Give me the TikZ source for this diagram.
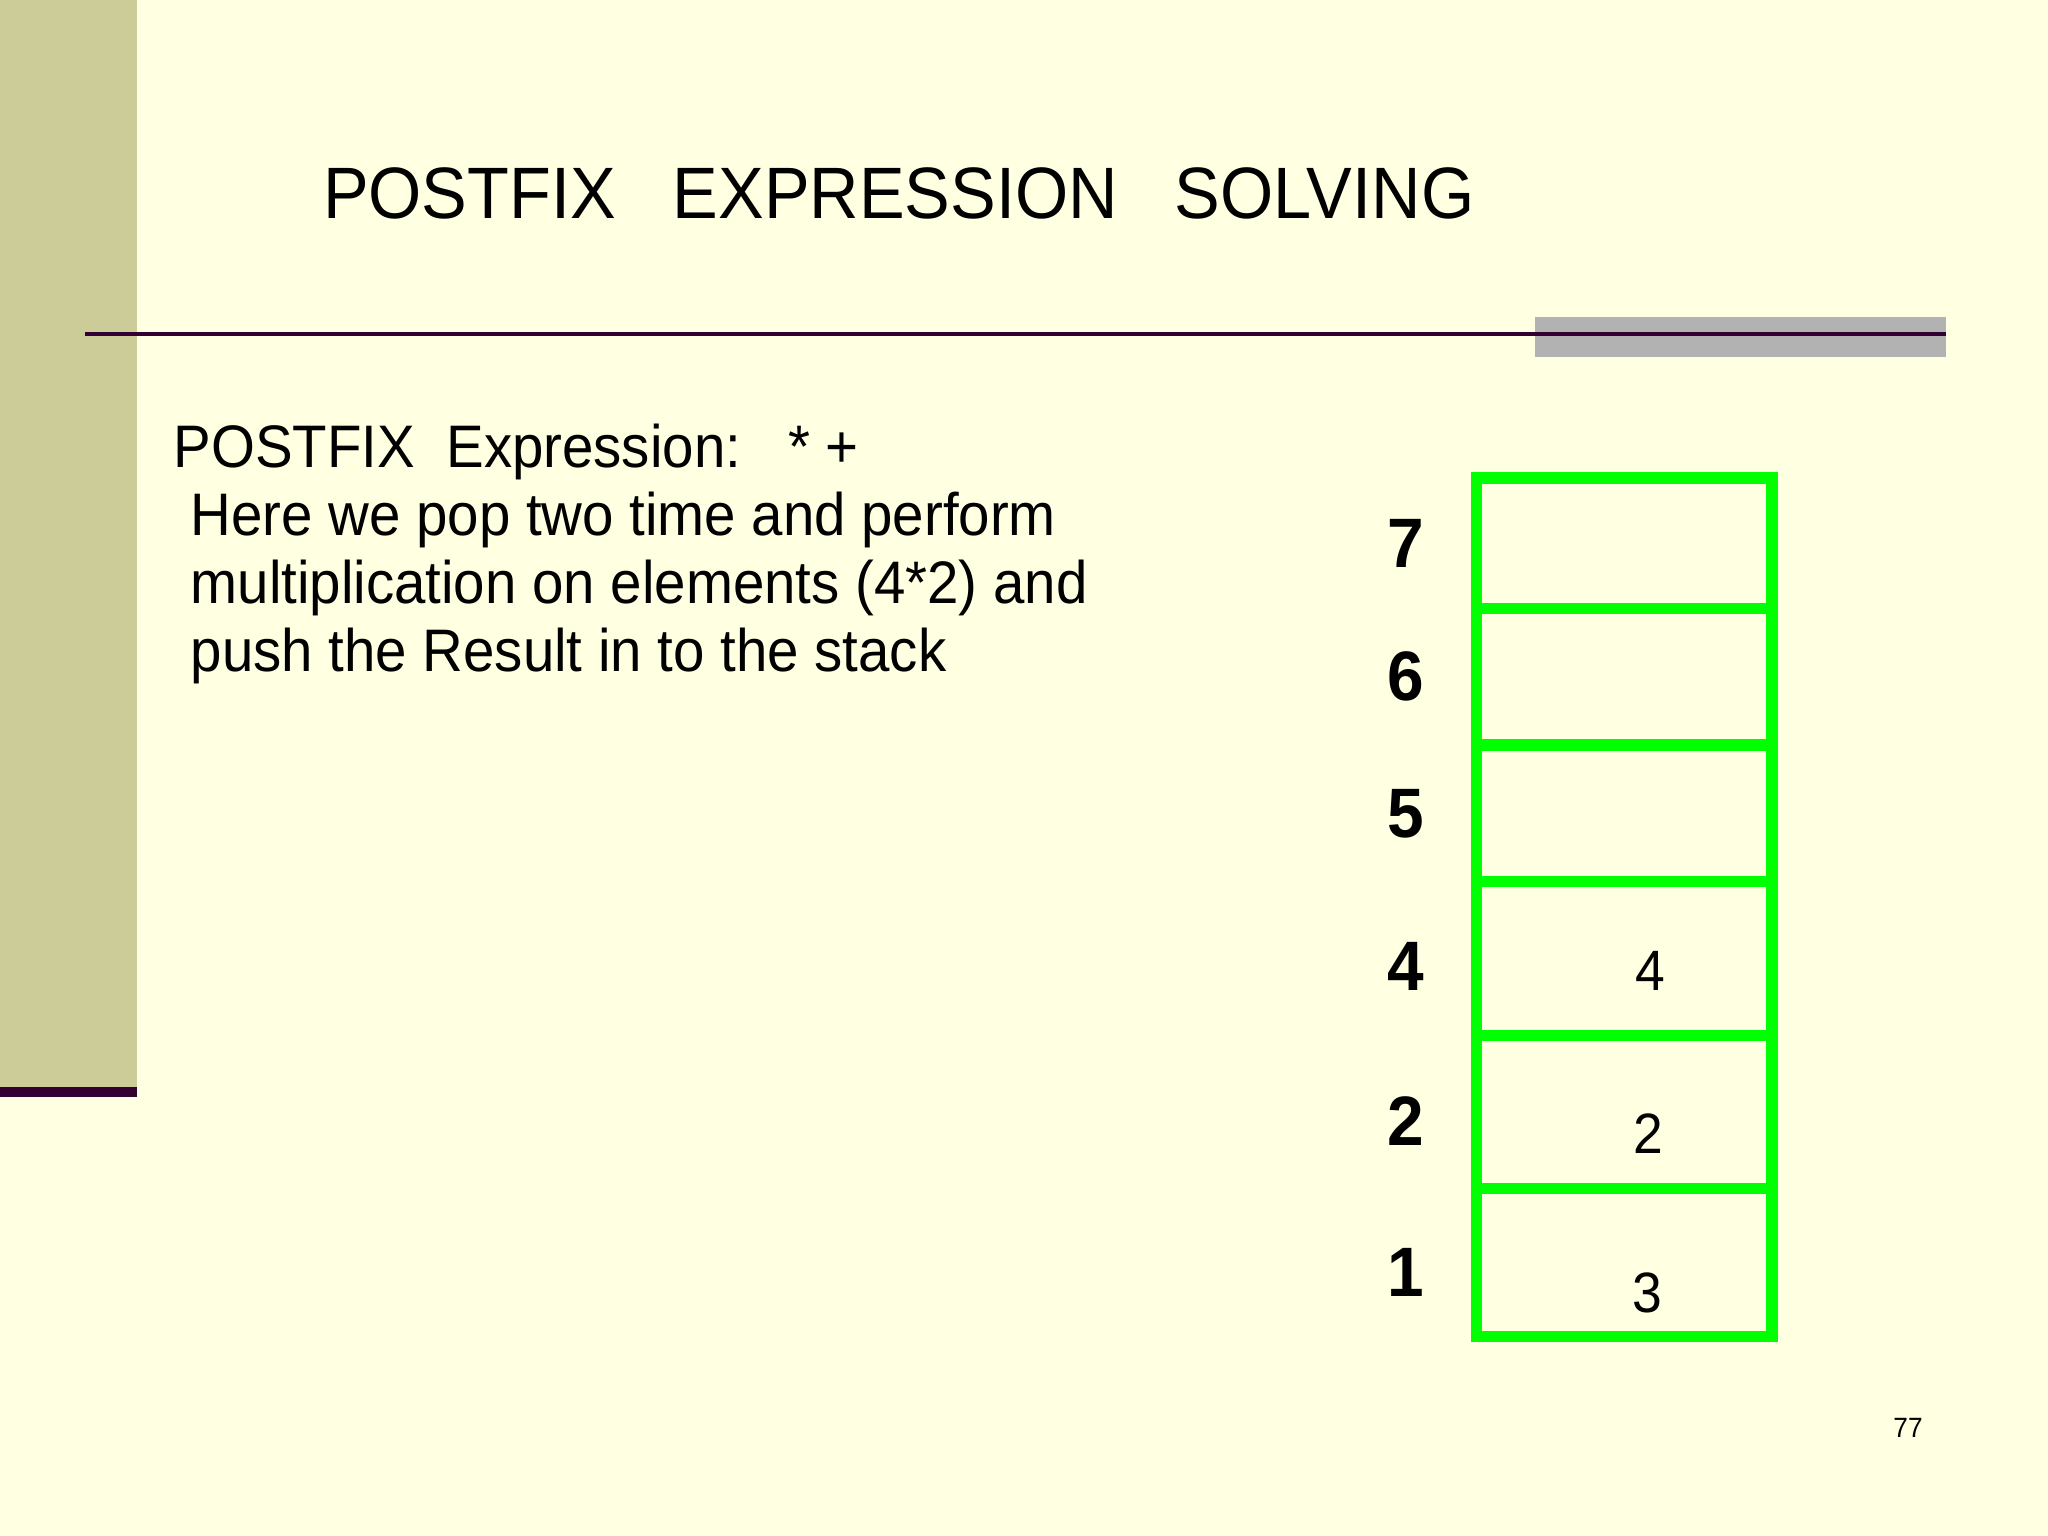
\documentclass[tikz,border=0pt]{standalone}
\usepackage{fontspec}
\setmainfont{Liberation Sans}[FakeStretch=0.94]
\usetikzlibrary{positioning}
\definecolor{SlideBg}{RGB}{255,255,225}
\definecolor{BarOlive}{RGB}{204,204,153}
\definecolor{RulePurple}{RGB}{51,0,51}
\definecolor{BarGray}{RGB}{178,178,178}
\definecolor{StackGreen}{RGB}{0,255,0}

\begin{document}
\begin{tikzpicture}[
  x=0.3515625pt,y=0.3515625pt,
  every node/.style={inner sep=0,outer sep=0},
  cell/.style={draw=StackGreen,line width=4pt,minimum width=103.9pt},
  index/.style={font=\fontsize{24.6pt}{28pt}\selectfont\bfseries},
  value/.style={font=\fontsize{20pt}{24pt}\selectfont},
  title/.style={anchor=base west,font=\fontsize{25.6pt}{30pt}\selectfont},
  body/.style={anchor=base west,align=left,
    font=\fontsize{21.1pt}{23.87pt}\selectfont}
  ]

  % slide frame
  \useasboundingbox (0,0) rectangle (2048,1536);
  \fill[SlideBg] (0,0) rectangle (2048,1536);
  \fill[BarOlive] (0,449) rectangle (137,1536);
  \fill[RulePurple] (0,439) rectangle (137,449);
  \fill[BarGray] (1535,1179) rectangle (1946,1219);
  \draw[RulePurple,line width=1.5pt] (85,1202) -- (1946,1202);

  \node[title] (title) at (323,1317) {POSTFIX\ \ \ EXPRESSION\ \ \ SOLVING};

  % base of the three-line text is its last line
  \node[body] (expr) at (173.7,1068.4) {POSTFIX\ \ Expression:\ \ \ * +};
  \node[body] (text) at (190.7,864.7) {Here we pop two time and perform\\
    multiplication on elements (4*2) and\\
    push the Result in to the stack};

  % stack
  \node[cell,minimum height=45.95pt] (c7) at (1624.25,992.65) {};
  \node[cell,minimum height=47.92pt] (c6) [below=0pt of c7] {};
  \node[cell,minimum height=48.06pt] (c5) [below=0pt of c6] {};
  \node[cell,minimum height=54.18pt] (c4) [below=0pt of c5] {};
  \node[cell,minimum height=53.68pt] (c2) [below=0pt of c4] {};
  \node[cell,minimum height=51.96pt] (c1) [below=0pt of c2] {};

  \node[index] (l7) [left=18.5pt of c7]              {7};
  \node[index] (l6) [left=18.5pt of c6]              {6};
  \node[index] (l5) [left=18.5pt of c5]              {5};
  \node[index] (l4) [left=18.5pt of c4,yshift=-2.8pt] {4};
  \node[index] (l2) [left=18.5pt of c2,yshift=-3.1pt] {2};
  \node[index] (l1) [left=18.5pt of c1,yshift=-3.7pt] {1};

  \node[value,xshift=9pt,yshift=-4.3pt]   (v4) at (c4) {4};
  \node[value,xshift=8.3pt,yshift=-7.5pt] (v2) at (c2) {2};
  \node[value,xshift=8.2pt,yshift=-10.9pt] (v1) at (c1) {3};

  \node[font=\fontsize{9.8pt}{12pt}\selectfont] (page) at (1908,108) {77};
\end{tikzpicture}
\end{document}
